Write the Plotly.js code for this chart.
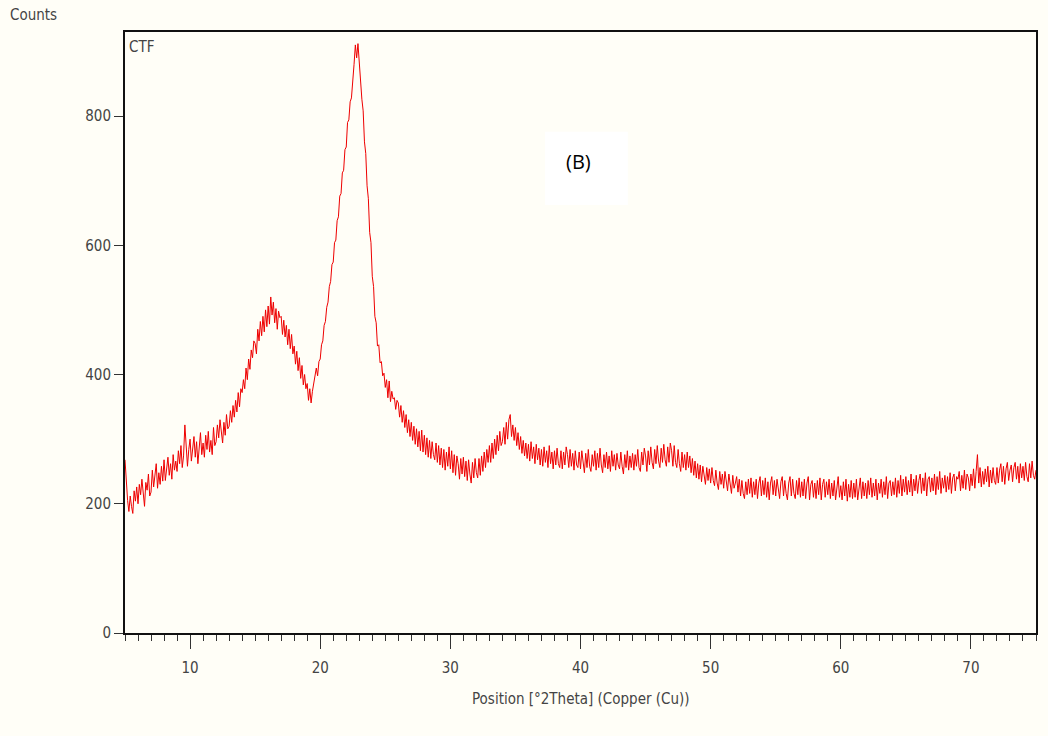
<!DOCTYPE html>
<html>
<head>
<meta charset="utf-8">
<script src="https://cdn.plot.ly/plotly-3.0.1.min.js"></script>
<style>html,body{margin:0;padding:0;background:#fffef7;}#chart{width:1048px;height:736px;}</style>
</head>
<body>
<div id="chart"></div>
<script>
// 2Theta start and step of the scan (positions)
const thetaStart = 5.0;
const thetaStep = 0.1;
// Counts, one row per degree (x.0 ... x.9)
const counts05 = [268,232,205,188,212,196,185,220,204,226];
const counts06 = [200,230,214,238,209,196,233,221,246,212];
const counts07 = [218,252,226,240,262,224,248,230,258,235];
const counts08 = [268,236,255,272,244,262,238,276,252,266];
const counts09 = [250,282,262,290,256,274,322,288,258,284];
const counts10 = [300,266,290,304,272,296,262,284,310,276];
const counts11 = [294,272,306,284,312,280,298,276,318,290];
const counts12 = [296,322,302,330,310,294,326,306,338,316];
const counts13 = [320,344,326,352,334,360,342,372,350,378];
const counts14 = [372,392,378,410,392,424,408,438,426,452];
const counts15 = [448,432,470,452,482,460,490,466,500,474];
const counts16 = [506,478,520,492,512,480,502,470,498,488];
const counts17 = [490,462,484,458,476,446,470,440,462,432];
const counts18 = [444,416,436,406,426,394,414,384,400,378];
const counts19 = [386,360,378,356,374,388,394,410,398,420];
const counts20 = [424,446,452,476,482,504,512,536,544,570];
const counts21 = [574,604,608,638,644,676,680,712,716,748];
const counts22 = [752,790,794,822,828,864,880,910,890,912];
const counts23 = [880,866,826,808,760,742,692,672,620,604];
const counts24 = [552,536,490,480,444,446,418,420,398,402];
const counts25 = [380,392,364,390,358,374,362,364,346,360];
const counts26 = [356,334,352,326,344,318,338,310,330,304];
const counts27 = [326,298,320,292,316,288,312,282,314,280];
const counts28 = [306,276,302,272,298,270,296,276,268,294];
const counts29 = [264,290,260,286,256,284,252,280,258,288];
const counts30 = [254,282,248,276,244,274,262,238,270,246];
const counts31 = [272,242,266,236,268,246,232,264,240,270];
const counts32 = [248,240,270,244,274,250,280,256,284,264];
const counts33 = [290,264,294,270,300,276,306,282,312,290];
const counts34 = [296,318,292,326,300,330,338,304,322,298];
const counts35 = [318,290,310,284,304,278,298,274,294,270];
const counts36 = [292,266,296,270,288,262,292,268,286,260];
const counts37 = [284,258,288,264,282,256,290,262,280,254];
const counts38 = [282,260,286,262,256,282,254,280,260,288];
const counts39 = [276,256,284,258,278,252,282,260,256,280];
const counts40 = [254,282,260,248,278,256,284,258,250,276];
const counts41 = [258,282,252,278,256,286,260,248,276,256];
const counts42 = [280,254,274,250,282,258,276,252,278,260];
const counts43 = [254,280,258,246,276,256,282,252,274,256];
const counts44 = [278,252,276,258,284,256,250,280,260,286];
const counts45 = [274,250,282,260,288,264,254,284,262,290];
const counts46 = [266,256,286,264,292,268,258,288,264,294];
const counts47 = [282,258,290,264,256,284,262,250,280,256];
const counts48 = [276,252,280,256,274,248,270,244,266,240];
const counts49 = [262,238,260,234,258,240,230,256,236,254];
const counts50 = [232,256,236,228,252,232,222,250,230,246];
const counts51 = [224,250,230,220,246,226,216,244,224,232];
const counts52 = [242,218,238,212,236,216,208,234,214,238];
const counts53 = [216,240,210,234,214,238,208,232,242,212];
const counts54 = [236,214,240,210,234,206,232,242,214,236];
const counts55 = [212,238,218,208,234,242,212,236,216,206];
const counts56 = [232,242,212,238,216,208,236,214,240,210];
const counts57 = [234,212,238,208,232,242,206,230,236,210];
const counts58 = [232,208,236,214,240,206,230,238,210,234];
const counts59 = [214,238,208,232,212,236,206,230,242,210];
const counts60 = [228,206,234,212,238,204,230,210,236,208];
const counts61 = [232,210,238,206,228,240,208,234,212,232];
const counts62 = [208,236,214,240,210,232,212,238,206,232];
const counts63 = [216,238,210,234,214,242,208,232,236,212];
const counts64 = [234,214,240,210,236,216,244,212,238,218];
const counts65 = [242,214,236,218,246,212,238,220,244,216];
const counts66 = [236,246,216,240,220,248,212,238,242,218];
const counts67 = [240,220,246,214,242,222,250,216,240,224];
const counts68 = [244,218,242,222,248,216,240,246,220,242];
const counts69 = [238,250,220,244,224,252,222,246,240,220];
const counts70 = [246,228,254,224,250,276,232,256,226,250];
const counts71 = [230,254,234,258,226,252,232,256,236,230];
const counts72 = [256,232,252,262,234,258,230,254,264,236];
const counts73 = [252,260,234,256,264,238,258,232,262,240];
const counts74 = [258,236,264,242,234,262,240,266,244,238];
const counts75 = [252];

const xTickVals = [10,20,30,40,50,60,70];
const yTickVals = [0,200,400,600,800];
const xTitle = "Position [°2Theta] (Copper (Cu))";
const yTitle = "Counts";
const sampleName = "CTF";
const panelLabel = "(B)";

const counts = [].concat(counts05,counts06,counts07,counts08,counts09,counts10,counts11,counts12,counts13,counts14,
  counts15,counts16,counts17,counts18,counts19,counts20,counts21,counts22,counts23,counts24,
  counts25,counts26,counts27,counts28,counts29,counts30,counts31,counts32,counts33,counts34,
  counts35,counts36,counts37,counts38,counts39,counts40,counts41,counts42,counts43,counts44,
  counts45,counts46,counts47,counts48,counts49,counts50,counts51,counts52,counts53,counts54,
  counts55,counts56,counts57,counts58,counts59,counts60,counts61,counts62,counts63,counts64,
  counts65,counts66,counts67,counts68,counts69,counts70,counts71,counts72,counts73,counts74,counts75);
const theta = counts.map((_, i) => +(thetaStart + i * thetaStep).toFixed(2));

const font = "DejaVu Sans Condensed, Liberation Sans Narrow, sans-serif";
const bg = "#fffef7";
const txt = "#444";

const trace = {
  x: theta, y: counts, type: "scatter", mode: "lines",
  line: {color: "#ee0000", width: 1}, hoverinfo: "x+y"
};

const layout = {
  width: 1048, height: 736,
  paper_bgcolor: bg, plot_bgcolor: bg,
  margin: {l: 125, r: 12, t: 32, b: 103},
  showlegend: false,
  font: {family: font, size: 15, color: txt},
  xaxis: {
    range: [5, 75], tickvals: xTickVals, ticktext: xTickVals.map(String),
    ticks: "outside", ticklen: 14, tickwidth: 1, tickcolor: "#333",
    ticklabelstandoff: 6,
    minor: {dtick: 1, ticks: "outside", ticklen: 6, tickwidth: 1, tickcolor: "#333", showgrid: false},
    showline: true, mirror: true, linecolor: "#111", linewidth: 2,
    showgrid: false, zeroline: false,
    tickfont: {family: font, size: 15, color: txt}
  },
  yaxis: {
    range: [0, 930], tickvals: yTickVals, ticktext: yTickVals.map(String),
    ticks: "outside", ticklen: 9, tickwidth: 1, tickcolor: "#333",
    showline: true, mirror: true, linecolor: "#111", linewidth: 2,
    showgrid: false, zeroline: false,
    tickfont: {family: font, size: 15, color: txt}
  },
  shapes: [{
    type: "rect", xref: "paper", yref: "paper",
    x0: 0.461, x1: 0.552, y0: 0.712, y1: 0.834,
    fillcolor: "#ffffff", line: {width: 0}, layer: "below"
  }],
  annotations: [
    {text: yTitle, xref: "paper", yref: "paper", x: -0.128, y: 1.028, xanchor: "left", yanchor: "middle",
     showarrow: false, font: {family: font, size: 15, color: txt}},
    {text: sampleName, xref: "paper", yref: "paper", x: 0, y: 1, xanchor: "left", yanchor: "top",
     xshift: 2, yshift: -4, showarrow: false, font: {family: font, size: 15, color: txt}},
    {text: xTitle, xref: "paper", yref: "paper", x: 0.5, y: -0.11, xanchor: "center", yanchor: "middle",
     showarrow: false, font: {family: font, size: 15, color: txt}},
    {text: panelLabel, xref: "paper", yref: "paper", x: 0.498, y: 0.784, xanchor: "center", yanchor: "middle",
     showarrow: false, font: {family: "Open Sans, Liberation Sans, sans-serif", size: 20, color: "#000"}}
  ]
};

Plotly.newPlot("chart", [trace], layout, {displayModeBar: false, staticPlot: true});
</script>
</body>
</html>
